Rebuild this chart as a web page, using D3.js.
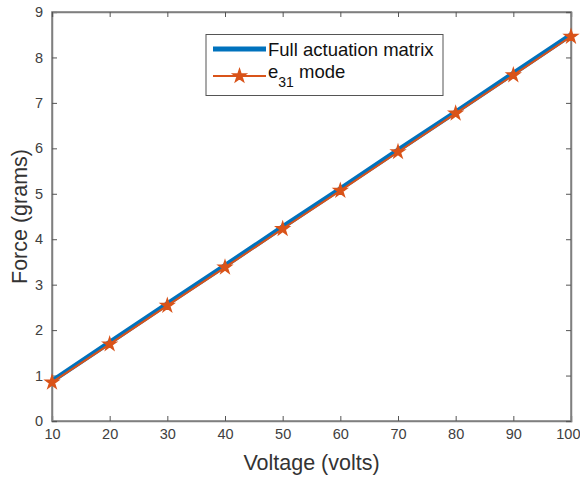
<!DOCTYPE html>
<html><head><meta charset="utf-8">
<script src="https://cdn.jsdelivr.net/npm/d3@7"></script>
<style>body{margin:0;background:#fff;} text{font-family:"Liberation Sans",Arial,sans-serif;}</style>
</head><body>
<svg id="c" width="580" height="477"></svg>
<script>
const voltage = [10,20,30,40,50,60,70,80,90,100];
const fullMatrix = [0.88,1.73,2.58,3.42,4.27,5.11,5.96,6.80,7.65,8.50];
const e31Mode = [0.85,1.69,2.54,3.38,4.23,5.07,5.92,6.77,7.61,8.46];
const xTicks = [10,20,30,40,50,60,70,80,90,100];
const yTicks = [0,1,2,3,4,5,6,7,8,9];

const svg = d3.select("#c");
const L=52,R=571,T=12,B=421;
const x = d3.scaleLinear().domain([10,100]).range([L,R]);
const y = d3.scaleLinear().domain([0,9]).range([B,T]);
const axCol="#7f7f7f", txtCol="#404040";

svg.append("rect").attr("x",L).attr("y",T).attr("width",R-L).attr("height",B-T)
  .attr("fill","none").attr("stroke",axCol).attr("stroke-width",1.5);

svg.append("g").attr("transform",`translate(0,${B})`)
  .call(d3.axisBottom(x).tickValues(xTicks).tickSize(-5).tickPadding(8));
svg.append("g").attr("transform",`translate(${L},0)`)
  .call(d3.axisLeft(y).tickValues(yTicks).tickSize(-5).tickPadding(9));
svg.append("g").attr("transform",`translate(0,${T})`)
  .call(d3.axisTop(x).tickValues(xTicks).tickSize(-5).tickFormat(""));
svg.append("g").attr("transform",`translate(${R},0)`)
  .call(d3.axisRight(y).tickValues(yTicks).tickSize(-5).tickFormat(""));
svg.selectAll(".domain").attr("stroke",axCol).attr("stroke-width",1.5);
svg.selectAll(".tick line").attr("stroke","#555").attr("stroke-width",1);
svg.selectAll(".tick text").attr("fill",txtCol).style("font-size","14.5px")
  .style("font-family","'Liberation Sans',Arial,sans-serif");
svg.selectAll(".tick text").filter(d=>d===100).attr("text-anchor","end").attr("x",9);

const line = d3.line().x((d,i)=>x(voltage[i])).y(d=>y(d));
svg.append("path").datum(fullMatrix).attr("d",line).attr("fill","none")
  .attr("stroke","#0072BD").attr("stroke-width",5);
svg.append("path").datum(e31Mode).attr("d",line).attr("fill","none")
  .attr("stroke","#D95319").attr("stroke-width",2);
const star = d3.symbol().type(d3.symbolStar).size(50);
svg.selectAll(".mk").data(e31Mode).enter().append("path")
  .attr("transform",(d,i)=>`translate(${x(voltage[i])},${y(d)})`)
  .attr("d",star).attr("fill","#D95319").attr("stroke","#D95319").attr("stroke-width",1.5);

svg.append("text").attr("x",(L+R)/2).attr("y",470).attr("text-anchor","middle")
  .attr("fill","#333").style("font-size","21.5px").text("Voltage (volts)");
svg.append("text").attr("transform",`translate(27,${(T+B)/2}) rotate(-90)`)
  .attr("text-anchor","middle").attr("fill","#333").style("font-size","21.5px").text("Force (grams)");

const lg = svg.append("g");
lg.append("rect").attr("x",206).attr("y",34.5).attr("width",237).attr("height",61)
  .attr("fill","#fff").attr("stroke","#555").attr("stroke-width",1);
lg.append("line").attr("x1",213).attr("x2",266).attr("y1",49).attr("y2",49)
  .attr("stroke","#0072BD").attr("stroke-width",5);
lg.append("text").attr("x",268).attr("y",55.5).attr("fill","#111").style("font-size","18.5px").text("Full actuation matrix");
lg.append("line").attr("x1",213).attr("x2",266).attr("y1",76).attr("y2",76)
  .attr("stroke","#D95319").attr("stroke-width",2);
lg.append("path").attr("transform","translate(239.5,76)").attr("d",star)
  .attr("fill","#D95319").attr("stroke","#D95319").attr("stroke-width",1.5);
const t2 = lg.append("text").attr("x",268).attr("y",78).attr("fill","#111").style("font-size","18.5px");
t2.append("tspan").text("e");
t2.append("tspan").attr("dy",9).style("font-size","14px").text("31");
t2.append("tspan").attr("dy",-9).text(" mode");
</script>
</body></html>
